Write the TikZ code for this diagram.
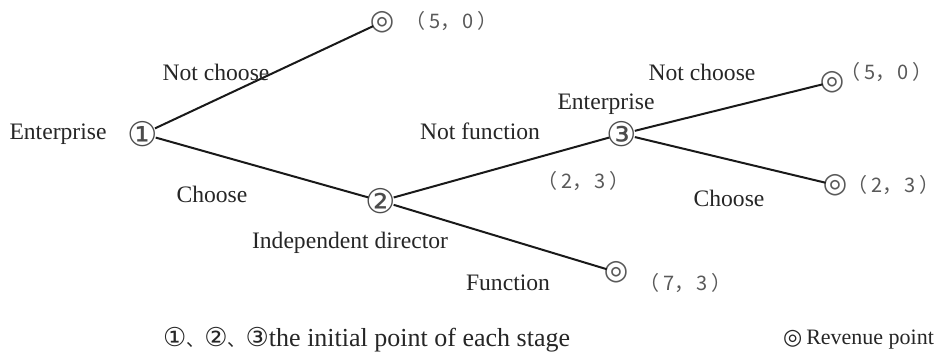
\documentclass[tikz,border=0pt]{standalone}
\usepackage{fontspec}
\setmainfont{Liberation Serif}
\newfontfamily\symfont{DejaVu Sans}
\newfontfamily\cjkfont{Noto Sans CJK SC}
\usetikzlibrary{positioning}
\newcommand{\stagemark}[1]{{\symfont\fontsize{13}{13}\selectfont #1}}
\newcommand{\payval}[2]{（\hspace{2pt}#1，\hspace{1pt}#2\hspace{2pt}\makebox[0.55em][l]{）}}
\tikzset{
    gametree/.style={x=0.5pt, y=-0.5pt, font=\fontsize{11.8}{14}\selectfont, text=black!85},
    stage/.style={circle, inner sep=-2.5pt, font=\symfont\fontsize{17}{17}\selectfont, text=black!70},
    payoff/.style={circle, inner sep=-2.5pt, font=\symfont\fontsize{14}{14}\selectfont, text=black!65},
    branch/.style={line width=1pt, black!90},
    % payoff values in full-width digits
    pay/.style={inner sep=0pt, font=\cjkfont\fontsize{10}{11}\selectfont, text=black!65},
}

\begin{document}
\begin{tikzpicture}[gametree]
    \useasboundingbox (0,0) rectangle (940,363);

    % decision points
    \node[stage] (s1) at (143,134) {①};
    \node[stage] (s2) at (381,201) {②};
    \node[stage] (s3) at (622,134) {③};

    % revenue points
    \node[payoff] (r1) at (382,22) {◎};
    \node[payoff] (r2) at (832,82) {◎};
    \node[payoff] (r3) at (835,185) {◎};
    \node[payoff] (r4) at (616,272) {◎};

    \draw[branch] (s1) -- (r1);
    \draw[branch] (s1) -- (s2);
    \draw[branch] (s2) -- (s3);
    \draw[branch] (s2) -- (r4);
    \draw[branch] (s3) -- (r2);
    \draw[branch] (s3) -- (r3);

    % players
    \node (p1) at (58,134) {Enterprise};
    \node (p2) at (350,243) {Independent director};
    \node (p3) at (606,104) {Enterprise};

    % actions
    \node (a1) at (216,72) {Not choose};
    \node (a2) at (212,194) {Choose};
    \node (a3) at (480,131) {Not function};
    \node (a4) at (508,283) {Function};
    \node (a5) at (702,72) {Not choose};
    \node (a6) at (729,198) {Choose};

    % payoffs
    \node[pay] (v1) at (447,21) {\payval{5}{0}};
    \node[pay] (v2) at (882,72) {\payval{5}{0}};
    \node[pay, right=1pt of r3] (v3) {\payval{2}{3}};
    \node[pay] (v4) at (681,283) {\payval{7}{3}};
    \node[pay] (v5) at (579,181) {\payval{2}{3}};

    % legend
    \node[anchor=west, font=\fontsize{13}{15}\selectfont] (k1) at (156,340)
        {\stagemark{①}{\cjkfont\fontsize{9}{9}\selectfont 、}\stagemark{②}{\cjkfont\fontsize{9}{9}\selectfont 、}\stagemark{③}the initial point of each stage};
    \node[anchor=west, font=\fontsize{11}{13}\selectfont] (k2) at (776,340)
        {{\symfont\fontsize{11}{11}\selectfont ◎}\hspace{2pt}Revenue point};
\end{tikzpicture}
\end{document}
